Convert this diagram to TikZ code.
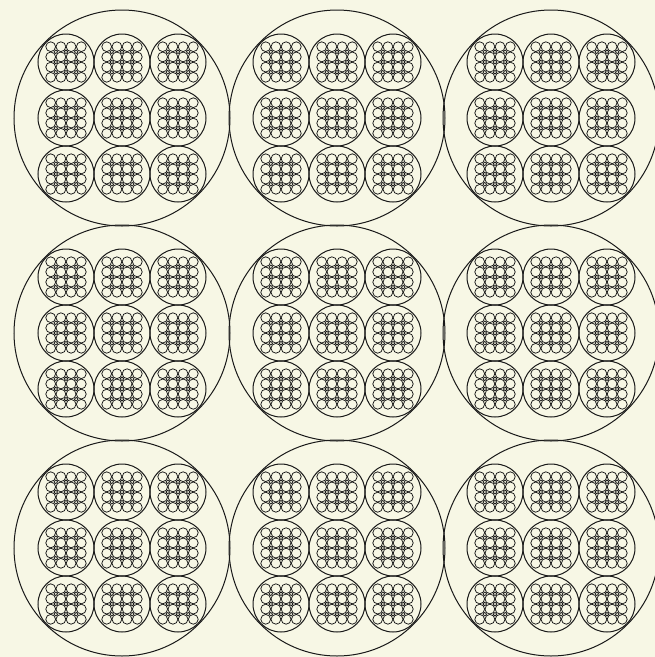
\documentclass[tikz,border=0pt]{standalone}
\definecolor{paper}{RGB}{247,247,229}
\definecolor{ink}{RGB}{25,25,25}
\begin{document}
\begin{tikzpicture}[x=1pt,y=-1pt,
  bigline/.style={draw=ink,line width=1pt},
  medline/.style={draw=ink,line width=1pt},
  smallline/.style={draw=ink,line width=0.75pt},
  cable/.pic={
    \draw[medline] (0pt,0pt) circle (28pt);
    \foreach \i in {-1.5,-0.5,0.5,1.5}{
      \foreach \j in {-1.5,-0.5,0.5,1.5}{
        \draw[smallline] (\i*10.2pt,\j*10.2pt) circle (4.9pt);
      }
    }
    \foreach \i in {-1,0,1}{
      \foreach \j in {-1,0,1}{
        \draw[smallline] (\i*10.2pt,\j*10.2pt) circle (1.8pt);
      }
    }
  }]
\fill[paper] (0,0) rectangle (655,657);
\useasboundingbox (0,0) rectangle (655,657);
\foreach \bx in {122,337,551}{
  \foreach \by in {118,333,548}{
    \draw[bigline] (\bx,\by) circle (108pt);
    \foreach \mx in {-56,0,56}{
      \foreach \my in {-56,0,56}{
        \pic at (\bx+\mx,\by+\my) {cable};
      }
    }
  }
}
\end{tikzpicture}
\end{document}
